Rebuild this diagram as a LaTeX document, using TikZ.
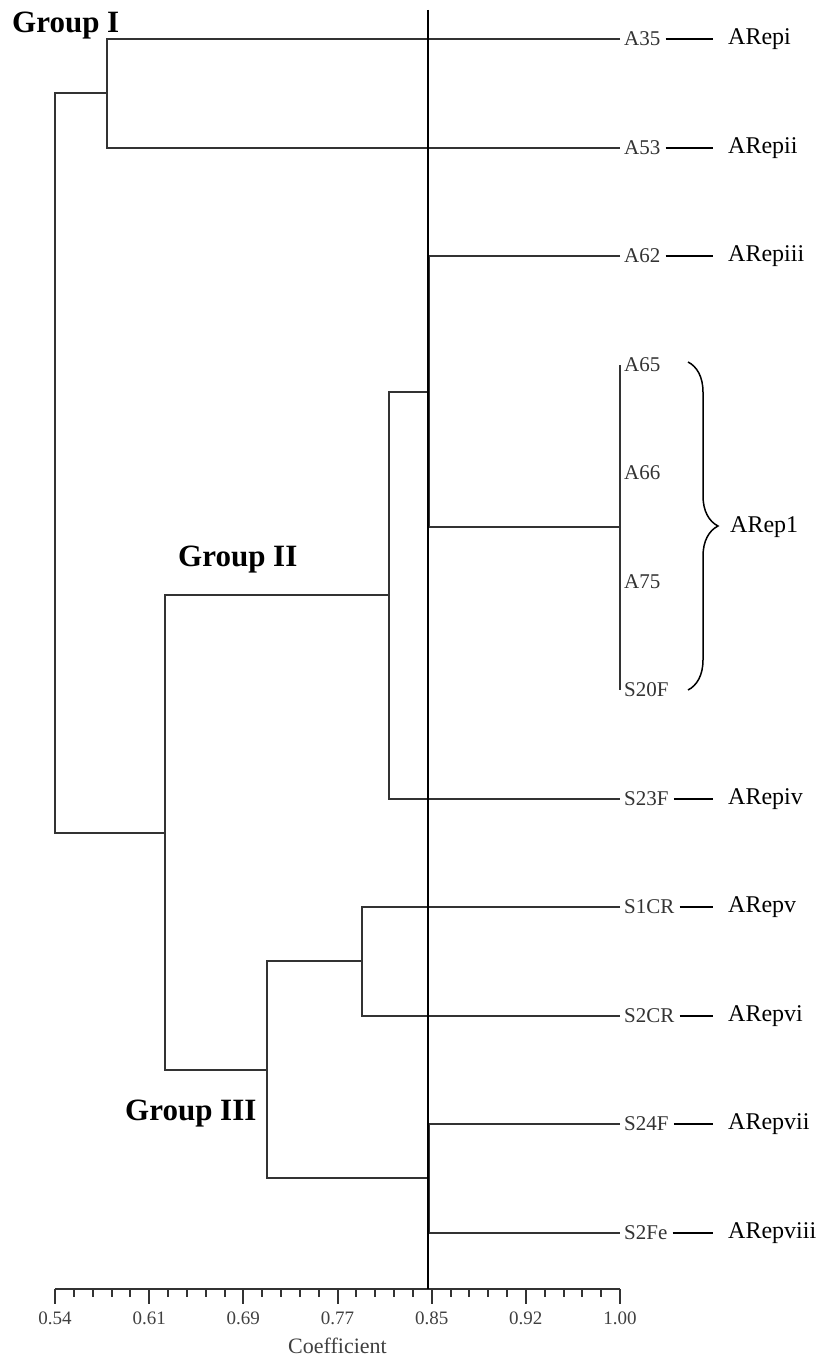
\documentclass[tikz,border=0pt]{standalone}
\usepackage{fontspec}
\setmainfont{Liberation Serif}
\usepackage{tikz}
\usetikzlibrary{calc,decorations.pathreplacing}

\tikzset{
  tree/.style={line width=2pt,black!80},
  leaf/.style={anchor=west,inner xsep=4pt,inner ysep=0pt,text=black!80,font=\fontsize{21}{24}\selectfont},
  rep/.style={anchor=west,inner xsep=0pt,font=\fontsize{24}{28}\selectfont},
  tie/.style={line width=1.6pt,shorten <=1pt,shorten >=15pt},
  grp/.style={anchor=base west,inner sep=0pt,font=\bfseries\fontsize{31}{36}\selectfont},
  ticklab/.style={text=black!75,font=\fontsize{19}{22}\selectfont},
}

\begin{document}
\begin{tikzpicture}[x=1pt,y=-1pt]
            \useasboundingbox (0,0) rectangle (820,1359);

            \node[leaf] (a35) at (620,39){A35};
            \node[leaf] (a53) at (620,148){A53};
            \node[leaf] (a62) at (620,256){A62};
            \node[leaf] (a65) at (620,365){A65};
            \node[leaf] (a66) at (620,473){A66};
            \node[leaf] (a75) at (620,582){A75};
            \node[leaf] (s20f) at (620,690){S20F};
            \node[leaf] (s23f) at (620,799){S23F};
            \node[leaf] (s1cr) at (620,907){S1CR};
            \node[leaf] (s2cr) at (620,1016){S2CR};
            \node[leaf] (s24f) at (620,1124){S24F};
            \node[leaf] (s2fe) at (620,1233){S2Fe};

            \node[rep] (rep-i) at (728,39){ARepi};
            \node[rep] (rep-ii) at (728,148){ARepii};
            \node[rep] (rep-iii) at (728,256){ARepiii};
            \node[rep] (rep-iv) at (728,799){ARepiv};
            \node[rep] (rep-v) at (728,907){ARepv};
            \node[rep] (rep-vi) at (728,1016){ARepvi};
            \node[rep] (rep-vii) at (728,1124){ARepvii};
            \node[rep] (rep-viii) at (728,1233){ARepviii};
            \node[rep] (rep-1) at (730,527){ARep1};

            \draw[tie] (a35) -- (rep-i);
            \draw[tie] (a53) -- (rep-ii);
            \draw[tie] (a62) -- (rep-iii);
            \draw[tie] (s23f) -- (rep-iv);
            \draw[tie] (s1cr) -- (rep-v);
            \draw[tie] (s2cr) -- (rep-vi);
            \draw[tie] (s24f) -- (rep-vii);
            \draw[tie] (s2fe) -- (rep-viii);

            \draw[line width=1.5pt,decorate,decoration={brace,amplitude=30pt,aspect=0.5}]
              (688,362) -- (688,690);

            \coordinate (g1) at (107,93);
            \coordinate (c1) at (620,527);
            \coordinate (c2) at (429,392);
            \coordinate (c3) at (389,595);
            \coordinate (c4) at (362,961);
            \coordinate (c5) at (429,1178);
            \coordinate (c6) at (267,1070);
            \coordinate (c7) at (165,833);
            \coordinate (root) at (55,463);

            \draw[tree] (a35.west) -| (g1) |- (a53.west);
            \draw[tree] (a65.west) -- (s20f.west);
            \draw[tree] (a62.west) -| (c2) |- (c1);
            \draw[tree] (c2) -| (c3) |- (s23f.west);
            \draw[tree] (s1cr.west) -| (c4) |- (s2cr.west);
            \draw[tree] (s24f.west) -| (c5) |- (s2fe.west);
            \draw[tree] (c4) -| (c6) |- (c5);
            \draw[tree] (c3) -| (c7) |- (c6);
            \draw[tree] (g1) -| (root) |- (c7);

            \node[grp] (grp-i) at (12,33){Group I};
            \node[grp] (grp-ii) at (178,566){Group II};
            \node[grp] (grp-iii) at (125,1120){Group III};

            \draw[tree] (55,1289) -- (620,1289);
            \foreach \k in {0,...,30}
              \draw[tree] (55+\k*18.8333,1289) -- ++(0,8);
            \foreach \v [count=\i from 0] in {0.54,0.61,0.69,0.77,0.85,0.92,1.00}{
              \draw[tree] (55+\i*94.1667,1289) -- ++(0,15);
              \node[ticklab] at (55+\i*94.1667,1318.5){\v};
            }
            \node[ticklab,font=\fontsize{22}{26}\selectfont] (coef) at (337.5,1346){Coefficient};

            \draw[line width=2pt] (428,10) -- (428,1289);
          \end{tikzpicture}
\end{document}
